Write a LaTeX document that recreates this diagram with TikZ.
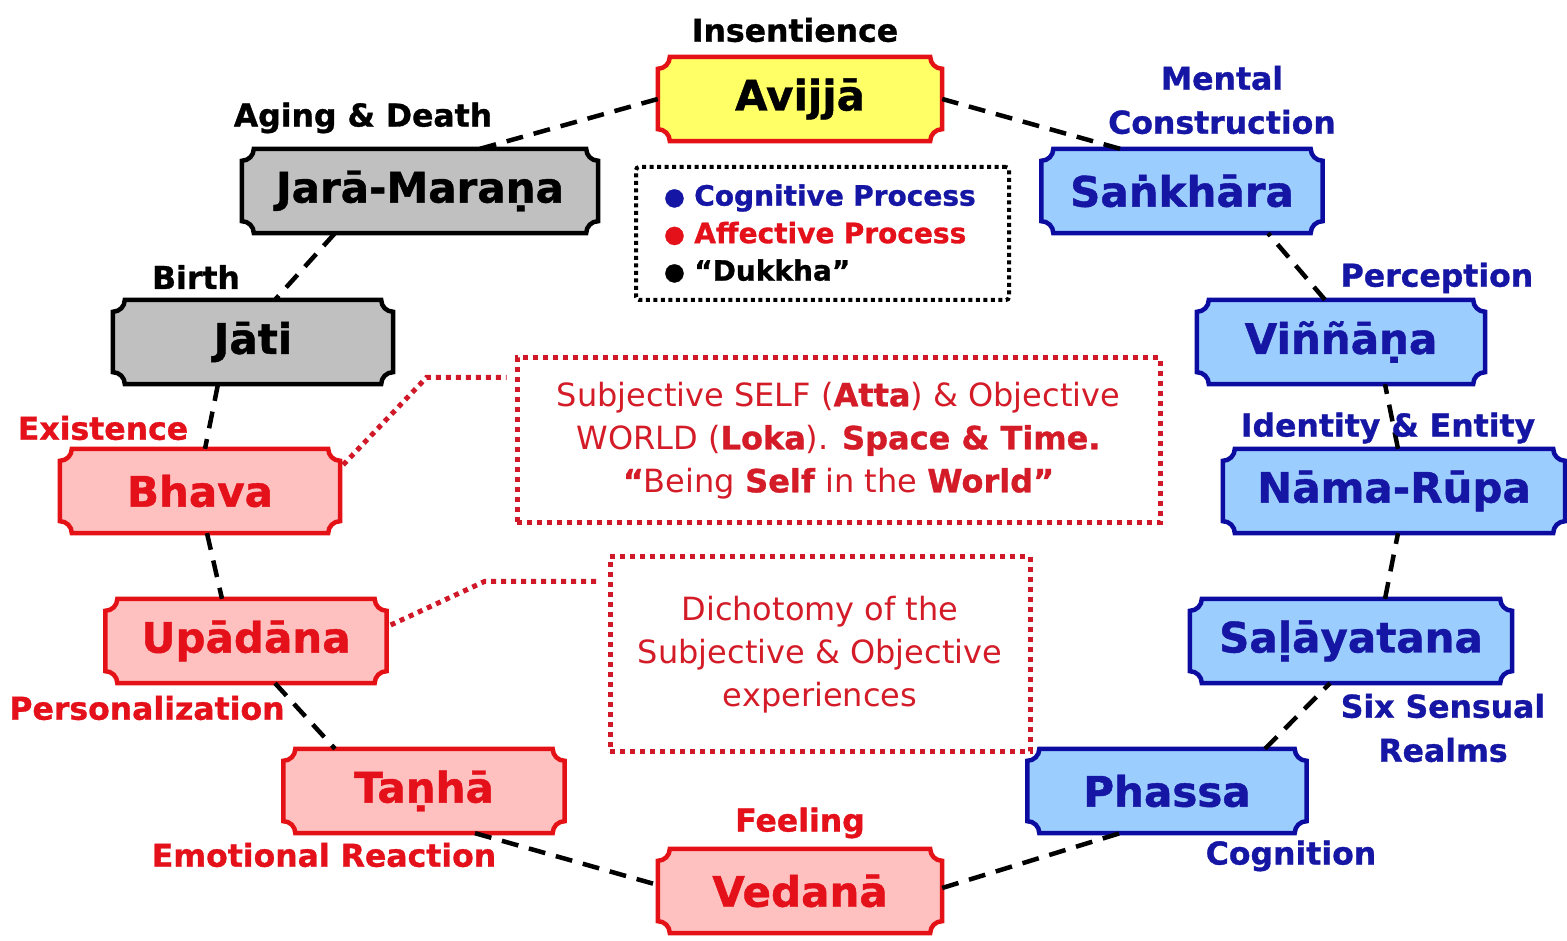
\documentclass[tikz,border=0pt]{standalone}
\usepackage{fontspec}
\setmainfont{DejaVu Sans}[BoldFeatures={FakeBold=1.0}]
\usetikzlibrary{calc,backgrounds}
\definecolor{bluetext}{RGB}{22,22,165}
\definecolor{blueborder}{RGB}{12,12,160}
\definecolor{bluefill}{RGB}{155,205,255}
\definecolor{redtext}{RGB}{228,16,26}
\definecolor{redborder}{RGB}{228,18,22}
\definecolor{redfill}{RGB}{255,192,192}
\definecolor{yellowfill}{RGB}{255,255,102}
\definecolor{grayfill}{RGB}{192,192,192}
\definecolor{dotred}{RGB}{208,24,40}
\definecolor{midred}{RGB}{212,28,40}
\newcommand\scoopshape[2]{%
  \path[#2] ([xshift=12pt]#1.north west) -- ([xshift=-12pt]#1.north east)
    arc[start angle=180,end angle=270,radius=12pt] -- ([yshift=12pt]#1.south east)
    arc[start angle=90,end angle=180,radius=12pt] -- ([xshift=12pt]#1.south west)
    arc[start angle=0,end angle=90,radius=12pt] -- ([yshift=-12pt]#1.north west)
    arc[start angle=270,end angle=360,radius=12pt] -- cycle;}
\begin{document}
\begin{tikzpicture}[x=1pt,y=1pt,
  box/.style={rectangle, inner sep=0pt, minimum height=84pt, font=\fontsize{42}{50}\selectfont\bfseries},
  bluebox/.style={box, text=bluetext},
  redbox/.style={box, text=redtext},
  blackbox/.style={box, text=black},
  yellowshape/.style={fill=yellowfill, draw=redborder, line width=4.5pt},
  grayshape/.style={fill=grayfill, draw=black, line width=4.5pt},
  blueshape/.style={fill=bluefill, draw=blueborder, line width=4.5pt},
  redshape/.style={fill=redfill, draw=redborder, line width=4.5pt},
  lbl/.style={inner sep=0pt, align=center, font=\fontsize{31.5}{44}\selectfont\bfseries},
  conn/.style={draw=black, line width=4.5pt, dash pattern=on 17pt off 11pt},
  reddot/.style={draw=dotred, line width=5pt, dash pattern=on 5pt off 5pt},
  midbox/.style={rectangle, draw=dotred, line width=5pt, dash pattern=on 5pt off 5pt, align=center, text=midred, inner sep=0pt, font=\fontsize{32}{43}\selectfont},
  legendbox/.style={rectangle, draw=black, line width=4pt, dash pattern=on 4pt off 3.5pt, rounded corners=3pt, align=left, text width=317pt, inner xsep=28pt, inner ysep=0pt, minimum height=133pt, font=\fontsize{28}{37.5}\selectfont\bfseries}
]
\useasboundingbox (0,0) rectangle (1567,941);
% boxes
\node[blackbox, minimum width=284pt] (avijja) at (800,842) {Avijjā};
\node[blackbox, minimum width=356pt] (jara) at (420,750) {Jarā-Maraṇa};
\node[bluebox, minimum width=281pt] (sankhara) at (1182,750) {Saṅkhāra};
\node[blackbox, minimum width=280pt] (jati) at (253,599) {Jāti};
\node[bluebox, minimum width=288pt] (vinnana) at (1341,599) {Viññāṇa};
\node[redbox, minimum width=280pt] (bhava) at (200,450) {Bhava};
\node[bluebox, minimum width=342pt] (nama) at (1394,450) {Nāma-Rūpa};
\node[redbox, minimum width=281pt] (upadana) at (246,300) {Upādāna};
\node[bluebox, minimum width=322pt] (salayatana) at (1351,300) {Saḷāyatana};
\node[redbox, minimum width=281pt] (tanha) at (424,150) {Taṇhā};
\node[bluebox, minimum width=279pt] (phassa) at (1167,150) {Phassa};
\node[redbox, minimum width=284pt] (vedana) at (800,50) {Vedanā};
\begin{pgfonlayer}{background}
  \fill[white] (0,0) rectangle (1567,941);
  \scoopshape{avijja}{yellowshape}
  \scoopshape{jara}{grayshape}
  \scoopshape{jati}{grayshape}
  \scoopshape{sankhara}{blueshape}
  \scoopshape{vinnana}{blueshape}
  \scoopshape{nama}{blueshape}
  \scoopshape{salayatana}{blueshape}
  \scoopshape{phassa}{blueshape}
  \scoopshape{bhava}{redshape}
  \scoopshape{upadana}{redshape}
  \scoopshape{tanha}{redshape}
  \scoopshape{vedana}{redshape}
\end{pgfonlayer}
% dashed cycle
\draw[conn] (avijja.west) -- ($(jara.north)+(60,0)$);
\draw[conn] ($(jara.south)+(-85,0)$) -- ($(jati.north)+(22,0)$);
\draw[conn] ($(jati.south)+(-35,0)$) -- ($(bhava.north)+(5,0)$);
\draw[conn] ($(bhava.south)+(7,0)$) -- ($(upadana.north)+(-24,0)$);
\draw[conn] ($(upadana.south)+(29,0)$) -- ($(tanha.north)+(-89,0)$);
\draw[conn] ($(tanha.south)+(51,0)$) -- ($(vedana.west)+(0,6)$);
\draw[conn] ($(vedana.east)+(0,3)$) -- ($(phassa.south)+(-47,0)$);
\draw[conn] ($(phassa.north)+(98,0)$) -- ($(salayatana.south)+(-21,0)$);
\draw[conn] ($(salayatana.north)+(34,0)$) -- ($(nama.south)+(4,0)$);
\draw[conn] ($(nama.north)+(4,0)$) -- ($(vinnana.south)+(44,0)$);
\draw[conn] ($(vinnana.north)+(-16,0)$) -- ($(sankhara.south)+(86,0)$);
\draw[conn] ($(sankhara.north)+(-62,0)$) -- (avijja.east);
% labels
\node[lbl, text=black] (insentience) at (795,911) {Insentience};
\node[lbl, text=black] (aging) at (363,823) {Aging \& Death};
\node[lbl, text=bluetext] (mental) at (1222,841) {Mental\\Construction};
\node[lbl, text=black] (birth) at (196,664) {Birth};
\node[lbl, text=bluetext] (perception) at (1437,663) {Perception};
\node[lbl, text=redtext] (existence) at (103,513) {Existence};
\node[lbl, text=bluetext] (identity) at (1388,513) {Identity \& Entity};
\node[lbl, text=redtext] (personalization) at (147,233) {Personalization};
\node[lbl, text=bluetext] (sixsensual) at (1443,213) {Six Sensual\\Realms};
\node[lbl, text=redtext] (emotional) at (324,86) {Emotional Reaction};
\node[lbl, text=redtext] (feeling) at (800,118) {Feeling};
\node[lbl, text=bluetext] (cognition) at (1291,85) {Cognition};
% legend
\node[legendbox] (legend) at (822.5,707.5) {%
  \textcolor{bluetext}{\raisebox{1pt}{\fontsize{24}{24}\selectfont ●} Cognitive Process}\\
  \textcolor{redtext}{\raisebox{1pt}{\fontsize{24}{24}\selectfont ●} Affective Process}\\
  \raisebox{1pt}{\fontsize{24}{24}\selectfont ●} “Dukkha”};
% middle boxes
\node[midbox, minimum width=643pt, minimum height=165pt] (selfbox) at (838.5,500.5) {%
  Subjective SELF (\textbf{Atta}) \& Objective\\
  WORLD (\textbf{Loka}). \textbf{Space \& Time.}\\
  \textbf{“}Being \textbf{Self} in the \textbf{World”}};
\node[midbox, minimum width=420pt, minimum height=195pt] (dichbox) at (820,286.5) {%
  Dichotomy of the\\
  Subjective \& Objective\\
  experiences};
% dotted links
\draw[reddot] ($(bhava.north east)+(3,-16)$) -- ($(selfbox.north west)+(-88,-22)$) -- ($(selfbox.north west)+(-8,-22)$);
\draw[reddot] ($(upadana.east)+(4,16)$) -- ($(dichbox.north west)+(-123,-27)$) -- ($(dichbox.north west)+(-10,-27)$);
\end{tikzpicture}
\end{document}
